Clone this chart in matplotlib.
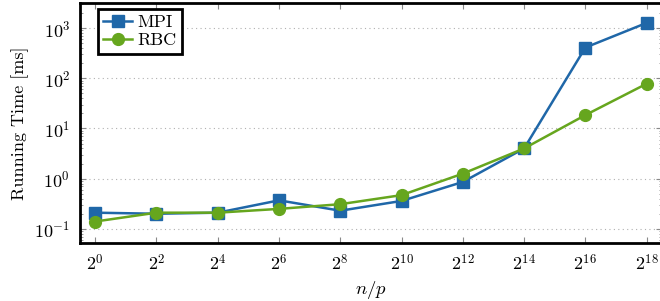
import numpy as np
import matplotlib
matplotlib.use("Agg")
import matplotlib.pyplot as plt
from matplotlib.ticker import LogLocator, FixedLocator, FuncFormatter, NullFormatter

# data
exponents = [0, 2, 4, 6, 8, 10, 12, 14, 16, 18]
mpi = [0.21, 0.20, 0.21, 0.37, 0.23, 0.36, 0.86, 4.0, 410, 1270]
rbc = [0.14, 0.21, 0.21, 0.25, 0.31, 0.47, 1.26, 4.0, 18.5, 78]
labels = ["MPI", "RBC"]

plt.rcParams['font.family'] = 'cmr10'
plt.rcParams['mathtext.fontset'] = 'cm'
plt.rcParams['axes.formatter.use_mathtext'] = True
plt.rcParams['font.size'] = 12.5

x = [2.0 ** e for e in exponents]

fig = plt.figure(figsize=(6.6, 3.01), dpi=100)
ax = fig.add_axes([0.121, 0.193, 0.882, 0.797])

ax.plot(x, mpi, color='#1f67a8', marker='s', markersize=8.5, linewidth=1.8, label=labels[0])
ax.plot(x, rbc, color='#66a61e', marker='o', markersize=8.5, linewidth=1.8, label=labels[1])

ax.set_xscale('log', base=2)
ax.set_yscale('log')
ax.set_xlim(2 ** -0.5, 2 ** 18.5)
ax.set_ylim(10 ** -1.28, 10 ** 3.5)

ax.xaxis.set_major_locator(FixedLocator(x))
ax.xaxis.set_major_formatter(FuncFormatter(lambda v, p: r'$2^{%d}$' % round(np.log2(v))))
ax.xaxis.set_minor_locator(FixedLocator([]))
ax.yaxis.set_major_locator(LogLocator(base=10))
ax.yaxis.set_minor_locator(LogLocator(base=10, subs=np.arange(2, 10)))
ax.yaxis.set_minor_formatter(NullFormatter())

ax.tick_params(which='both', direction='in', top=True, right=True, color='#888888')
ax.tick_params(which='major', length=4, width=0.8, pad=7, labelsize=13)
ax.tick_params(which='minor', length=2, width=0.6)

ax.grid(axis='y', which='major', linestyle=(0, (1, 3)), color='#b0b0b0', linewidth=0.8)
for s in ax.spines.values():
    s.set_linewidth(2)

ax.set_xlabel(r'$n/p$', fontsize=13.5)
ax.set_ylabel('Running Time [ms]', fontsize=13)

leg = ax.legend(loc='upper left', bbox_to_anchor=(0.025, 0.99), fancybox=False, framealpha=1,
                edgecolor='black', borderpad=0.3, handlelength=1.6, handletextpad=0.3,
                borderaxespad=0.2, labelspacing=0.15, fontsize=13)
leg.get_frame().set_linewidth(2)

fig.savefig('out.png', dpi=100)
